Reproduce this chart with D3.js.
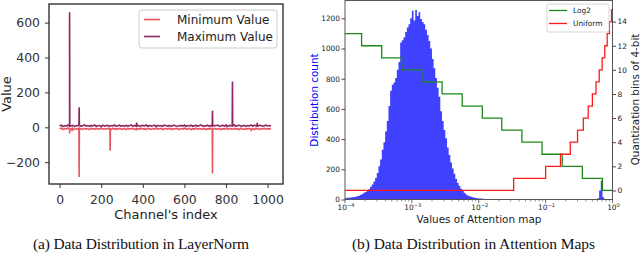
<!DOCTYPE html>
<html>
<head>
<meta charset="utf-8">
<script src="https://cdn.jsdelivr.net/npm/d3@7"></script>
<style>
body { margin: 0; background: #fff; }
svg text { font-family: "DejaVu Sans", Verdana, sans-serif; }
.caption { font-family: "Liberation Serif", "Times New Roman", serif; font-size: 15.5px; fill: #111; }
</style>
</head>
<body>
<svg id="chart" width="640" height="253"></svg>
<script>
// ---- panel (a): per-channel min / max of LayerNorm input ----
// baseline values at channels 0, 8, 16 ... 1016
var maxBase = [
    8, 12, 5, 10, 7, 13, 6, 9, 11, 4, 10, 8, 12, 6, 9, 14,
    7, 10, 5, 11, 8, 13, 6, 9, 10, 5, 12, 7, 9, 11, 6, 10,
    8, 13, 5, 9, 12, 7, 10, 6, 11, 8, 9, 14, 6, 10, 7, 12,
    5, 9, 11, 8, 13, 6, 10, 7, 9, 12, 5, 11, 8, 10, 6, 13,
    9, 7, 11, 5, 10, 12, 8, 6, 9, 11, 7, 13, 5, 10, 8, 12,
    6, 9, 11, 7, 10, 14, 6, 9, 8, 12, 5, 11, 7, 10, 9, 13,
    6, 8, 12, 7, 10, 5, 11, 9, 8, 13, 6, 10, 12, 7, 9, 11,
    5, 10, 8, 13, 6, 12, 9, 7, 11, 10, 6, 9, 12, 8, 10, 7
]
var minBase = [
    -9, -5, -12, -7, -10, -4, -11, -8, -6, -13, -7, -10, -5, -9, -12, -6,
    -10, -7, -13, -5, -9, -11, -6, -8, -12, -4, -10, -7, -11, -6, -9, -13,
    -5, -10, -8, -12, -6, -9, -11, -7, -13, -5, -10, -8, -6, -12, -9, -7,
    -11, -5, -10, -8, -13, -6, -9, -12, -7, -10, -4, -11, -8, -6, -12, -9,
    -7, -10, -5, -13, -8, -11, -6, -9, -12, -7, -10, -5, -9, -11, -6, -13,
    -8, -10, -5, -12, -7, -9, -11, -6, -13, -8, -10, -5, -12, -7, -9, -11,
    -6, -13, -8, -10, -5, -12, -7, -9, -11, -6, -10, -8, -13, -5, -9, -12,
    -7, -10, -6, -11, -8, -13, -5, -9, -12, -7, -10, -6, -11, -8, -9, -7
]
var baseStep = 8
var maxSpikes = [[48, 660], [94, 115], [370, 28], [735, 95], [800, 18], [831, 262], [950, 26]]
var minSpikes = [[48, -35], [60, -22], [94, -285], [243, -135], [370, -18], [735, -265], [920, -22]]

var aXTicks = [0, 200, 400, 600, 800, 1000]
var aYTicks = [-200, 0, 200, 400, 600]

// ---- panel (b): histogram of attention values + 4-bit quantizer bins ----
var histLogStart = -4, histLogStep = 0.025
var histCounts = [
    10, 11, 12, 13, 15, 17, 19, 22, 25, 29, 36, 44, 50, 60, 70, 85,
    100, 120, 142, 175, 220, 265, 330, 380, 450, 520, 620, 720, 760, 775, 805, 860,
    910, 1040, 1055, 1075, 1110, 1140, 1160, 1200, 1250, 1185, 1255, 1215, 1240, 1195, 1175, 1160,
    1125, 1090, 1050, 1000, 930, 870, 805, 740, 680, 585, 520, 460, 405, 345, 295, 245,
    205, 170, 135, 110, 90, 72, 57, 44, 33, 26, 21, 18, 15, 12, 10, 8,
    7, 6, 5, 4, 4, 3, 3, 3, 2, 2, 2, 2, 1, 1, 1, 1,
    1, 1, 1, 1, 0, 0, 0, 0, 0, 0, 0, 0, 0, 0, 0, 0,
    0, 0, 0, 0, 0, 0, 0, 0, 0, 0, 0, 0, 0, 0, 0, 0,
    0, 0, 0, 0, 0, 0, 0, 0, 0, 0, 0, 0, 0, 0, 0, 0,
    0, 0, 0, 0, 0, 0, 0, 8, 60, 125, 15, 0, 0, 0, 0, 0
]
var log2Edges = [1e-4, 1.77e-4, 3.54e-4, 7.07e-4, 1.41e-3, 2.83e-3, 5.66e-3, 0.0113, 0.0221, 0.0442, 0.0884, 0.177, 0.354, 0.707, 1.0]
var log2Levels = [13, 12, 11, 10, 9, 8, 7, 6, 5, 4, 3, 2, 1, 0]
var uniformEdges = [1e-4, 0.0333, 0.1, 0.1667, 0.2333, 0.3, 0.3667, 0.4333, 0.5, 0.5667, 0.6333, 0.7, 0.7667, 0.8333, 0.9, 0.9667, 1.0]
var uniformLevels = [0, 1, 2, 3, 4, 5, 6, 7, 8, 9, 10, 11, 12, 13, 14, 15]

var bCountTicks = [0, 200, 400, 600, 800, 1000, 1200]
var bBinTicks = [0, 2, 4, 6, 8, 10, 12, 14]
var bXTicks = [1e-4, 1e-3, 1e-2, 1e-1, 1]
var bXTickExp = ["\u22124", "\u22123", "\u22122", "\u22121", "0"]

var MIN_COLOR = "#e9545c", MAX_COLOR = "#8c2561"
var HIST_COLOR = "#4040ff"

var svg = d3.select("#chart")

function mergeSpikes(base, spikes) {
    var pts = base.map((v, i) => [i * baseStep, v])
    spikes.forEach(s => {
        var nb = base[Math.round(s[0] / baseStep)]
        pts.push([s[0] - 1, nb], [s[0], s[1]], [s[0] + 1, nb])
    })
    return pts.sort((a, b) => a[0] - b[0])
}

/* ================= panel (a) ================= */
var xA = d3.scaleLinear().domain([-51, 1074]).range([49, 283])
var yA = d3.scaleLinear().domain([-325, 707]).range([184, 4])

var gA = svg.append("g")

var axA = gA.append("g")
    .attr("transform", "translate(0,184)")
    .call(d3.axisBottom(xA).tickValues(aXTicks).tickSize(4).tickPadding(7).tickFormat(d3.format("d")))
axA.select(".domain").remove()
axA.selectAll("text").style("font-size", "12.4px").style("fill", "#333")
axA.selectAll("line").style("stroke", "#333")

var ayA = gA.append("g")
    .attr("transform", "translate(49,0)")
    .call(d3.axisLeft(yA).tickValues(aYTicks).tickSize(4).tickPadding(5).tickFormat(d => d < 0 ? "\u2212" + (-d) : d))
ayA.select(".domain").remove()
ayA.selectAll("text").style("font-size", "12.4px").style("fill", "#333")
ayA.selectAll("line").style("stroke", "#333")

var lineA = d3.line().x(d => xA(d[0])).y(d => yA(d[1]))

gA.append("path")
    .datum(mergeSpikes(minBase, minSpikes))
    .attr("d", lineA)
    .attr("fill", "none")
    .attr("stroke", MIN_COLOR)
    .attr("stroke-width", 1.6)

gA.append("path")
    .datum(mergeSpikes(maxBase, maxSpikes))
    .attr("d", lineA)
    .attr("fill", "none")
    .attr("stroke", MAX_COLOR)
    .attr("stroke-width", 1.6)

gA.append("rect")
    .attr("x", 49).attr("y", 4)
    .attr("width", 234).attr("height", 180)
    .attr("fill", "none").attr("stroke", "#333").attr("stroke-width", 1.4)

// legend (a)
var legA = gA.append("g")
legA.append("rect")
    .attr("x", 139).attr("y", 10).attr("width", 138).attr("height", 38).attr("rx", 3)
    .attr("fill", "#fff").attr("fill-opacity", 0.8).attr("stroke", "#ccc")
var legAItems = [["Minimum Value", MIN_COLOR], ["Maximum Value", MAX_COLOR]]
legAItems.forEach((it, i) => {
    var y = 19.5 + i * 17
    legA.append("line").attr("x1", 144).attr("x2", 160).attr("y1", y).attr("y2", y)
        .attr("stroke", it[1]).attr("stroke-width", 1.6)
    legA.append("text").attr("x", 177).attr("y", y).attr("dy", "0.35em")
        .style("font-size", "12px").style("fill", "#222").text(it[0])
})

gA.append("text")
    .attr("x", 166).attr("y", 218.5)
    .attr("text-anchor", "middle")
    .style("font-size", "13px").style("fill", "#222")
    .text("Channel's index")

gA.append("text")
    .attr("transform", "translate(11,94) rotate(-90)")
    .attr("text-anchor", "middle")
    .style("font-size", "13px").style("fill", "#222")
    .text("Value")

gA.append("text").attr("class", "caption")
    .attr("x", 141).attr("y", 249).attr("text-anchor", "middle")
    .attr("textLength", 216).attr("lengthAdjust", "spacing")
    .text("(a) Data Distribution in LayerNorm")

/* ================= panel (b) ================= */
var xB = d3.scaleLog().domain([1e-4, 1]).range([345, 612.5])
var yB = d3.scaleLinear().domain([0, 1318]).range([199.5, 0.5])
var yB2 = d3.scaleLinear().domain([-0.75, 15.75]).range([199.5, 0.5])

var gB = svg.append("g")

var histPts = histCounts.map((c, i) => [Math.pow(10, histLogStart + histLogStep * i), c])
histPts.push([Math.pow(10, histLogStart + histLogStep * histCounts.length), histCounts[histCounts.length - 1]])

gB.append("path")
    .datum(histPts)
    .attr("d", d3.area().curve(d3.curveStepAfter)
        .x(d => xB(d[0])).y0(yB(0)).y1(d => yB(d[1])))
    .attr("fill", HIST_COLOR)

function stepPoints(edges, levels) {
    var pts = levels.map((l, i) => [edges[i], l])
    pts.push([edges[edges.length - 1], levels[levels.length - 1]])
    return pts
}
var stepLine = d3.line().curve(d3.curveStepAfter).x(d => xB(d[0])).y(d => yB2(d[1]))

gB.append("path")
    .datum(stepPoints(log2Edges, log2Levels))
    .attr("d", stepLine)
    .attr("fill", "none").attr("stroke", "#1a8a1a").attr("stroke-width", 1.3)

gB.append("path")
    .datum(stepPoints(uniformEdges, uniformLevels))
    .attr("d", stepLine)
    .attr("fill", "none").attr("stroke", "#ff1a1a").attr("stroke-width", 1.3)

gB.append("rect")
    .attr("x", 345).attr("y", 0.5)
    .attr("width", 267.5).attr("height", 199)
    .attr("fill", "none").attr("stroke", "#555").attr("stroke-width", 1)

// left count axis
var ayB = gB.append("g")
    .attr("transform", "translate(345,0)")
    .call(d3.axisLeft(yB).tickValues(bCountTicks).tickSize(3.5).tickPadding(1.5).tickFormat(d3.format("d")))
ayB.select(".domain").remove()
ayB.selectAll("text").style("font-size", "7.4px").style("fill", "#222")
ayB.selectAll("line").style("stroke", "#444")

// right bin axis
var ayB2 = gB.append("g")
    .attr("transform", "translate(612.5,0)")
    .call(d3.axisRight(yB2).tickValues(bBinTicks).tickSize(3.5).tickPadding(1.5))
ayB2.select(".domain").remove()
ayB2.selectAll("text").style("font-size", "7.4px").style("fill", "#222")
ayB2.selectAll("line").style("stroke", "#444")

// log x axis: minor + major ticks, 10^n labels
var minorTicks = xB.ticks().filter(t => bXTicks.indexOf(t) == -1)
gB.selectAll(".minorTick")
    .data(minorTicks)
    .enter().append("line")
    .attr("class", "minorTick")
    .attr("x1", d => xB(d)).attr("x2", d => xB(d))
    .attr("y1", 199.5).attr("y2", 201.5)
    .attr("stroke", "#444").attr("stroke-width", 0.6)
gB.selectAll(".majorTick")
    .data(bXTicks)
    .enter().append("line")
    .attr("class", "majorTick")
    .attr("x1", d => xB(d)).attr("x2", d => xB(d))
    .attr("y1", 199.5).attr("y2", 203)
    .attr("stroke", "#444").attr("stroke-width", 0.8)
var xLab = gB.selectAll(".xLab")
    .data(bXTicks)
    .enter().append("text")
    .attr("class", "xLab")
    .attr("x", d => xB(d) + 1)
    .attr("y", 210)
    .attr("text-anchor", "middle")
    .style("font-size", "7.4px").style("fill", "#222")
xLab.append("tspan").text("10")
xLab.append("tspan").attr("dy", -3).style("font-size", "5.2px").text((d, i) => bXTickExp[i])

gB.append("text")
    .attr("x", 479).attr("y", 222.5)
    .attr("text-anchor", "middle")
    .style("font-size", "10.4px").style("fill", "#222")
    .text("Values of Attention map")

gB.append("text")
    .attr("transform", "translate(318,100) rotate(-90)")
    .attr("text-anchor", "middle")
    .style("font-size", "10.4px").style("fill", "#0000ff")
    .text("Distribution count")

gB.append("text")
    .attr("transform", "translate(638.5,99.5) rotate(-90)")
    .attr("text-anchor", "middle")
    .style("font-size", "10.4px").style("fill", "#222")
    .text("Quantization bins of 4-bit")

// legend (b)
var legB = gB.append("g")
legB.append("rect")
    .attr("x", 547).attr("y", 4).attr("width", 62).attr("height", 28).attr("rx", 2)
    .attr("fill", "#fff").attr("fill-opacity", 0.8).attr("stroke", "#ccc").attr("stroke-width", 0.8)
var legBItems = [["Log2", "#1a8a1a"], ["Uniform", "#ff1a1a"]]
legBItems.forEach((it, i) => {
    var y = 10.5 + i * 13
    legB.append("line").attr("x1", 549).attr("x2", 567).attr("y1", y).attr("y2", y)
        .attr("stroke", it[1]).attr("stroke-width", 1.3)
    legB.append("text").attr("x", 573).attr("y", y).attr("dy", "0.35em")
        .style("font-size", "7.4px").style("fill", "#222").text(it[0])
})

gB.append("text").attr("class", "caption")
    .attr("x", 473.5).attr("y", 249).attr("text-anchor", "middle")
    .attr("textLength", 243).attr("lengthAdjust", "spacing")
    .text("(b) Data Distribution in Attention Maps")
</script>
</body>
</html>
